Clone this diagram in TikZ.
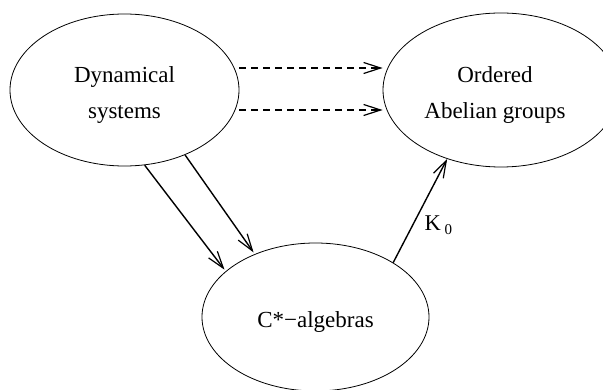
\documentclass[tikz,border=0pt]{standalone}
\usepackage{fontspec}
\setmainfont{Liberation Serif}
\usetikzlibrary{shapes.geometric,arrows.meta}
\begin{document}
\begin{tikzpicture}[x=1pt,y=-1pt,
  blob/.style={draw,ellipse,line width=0.8pt,inner sep=0pt},
  txt/.style={font=\fontsize{23}{36}\selectfont,align=center,inner sep=0pt},
  barb/.style={-{Straight Barb[length=17pt,width=11pt,line width=1.2pt]}},
  solidarr/.style={barb,line width=1.4pt},
  dasharr/.style={barb,line width=1.2pt,dash pattern=on 7pt off 5pt}]
\useasboundingbox (0,0) rectangle (603,390);
\begin{scope}
\clip (0,0) rectangle (603,390);
\node[blob,minimum width=229pt,minimum height=152pt] (ds) at (124.5,90) {};
\node[blob,minimum width=236pt,minimum height=154pt] (oag) at (501,90) {};
\node[blob,minimum width=227pt,minimum height=148pt] (cs) at (315.5,317) {};
\end{scope}
\node[txt] (dst) at ([yshift=-5pt]ds.center) {Dynamical\\systems};
\node[txt] (oagt) at ([xshift=-6pt,yshift=-5pt]oag.center) {Ordered\\Abelian groups};
\node[txt] (cst) at ([yshift=-5pt]cs.center) {C*−algebras};
\draw[dasharr] ([yshift=-20pt]ds.east) -- ([yshift=-20pt]oag.west);
\draw[dasharr] ([yshift=22pt]ds.east) -- ([yshift=22pt]oag.west);
\draw[solidarr,shorten >=2pt] (ds.-75.4) -- (cs.153.6);
\draw[solidarr,shorten >=2pt] (ds.-47.5) -- (cs.134.4);
\draw[solidarr] (cs.35.8) -- node[right=8pt,pos=0.36,font=\fontsize{22.5}{27}\selectfont] (k) {K\,\raisebox{-4pt}{\fontsize{15}{18}\selectfont 0}} (oag.232.6);
\end{tikzpicture}
\end{document}
